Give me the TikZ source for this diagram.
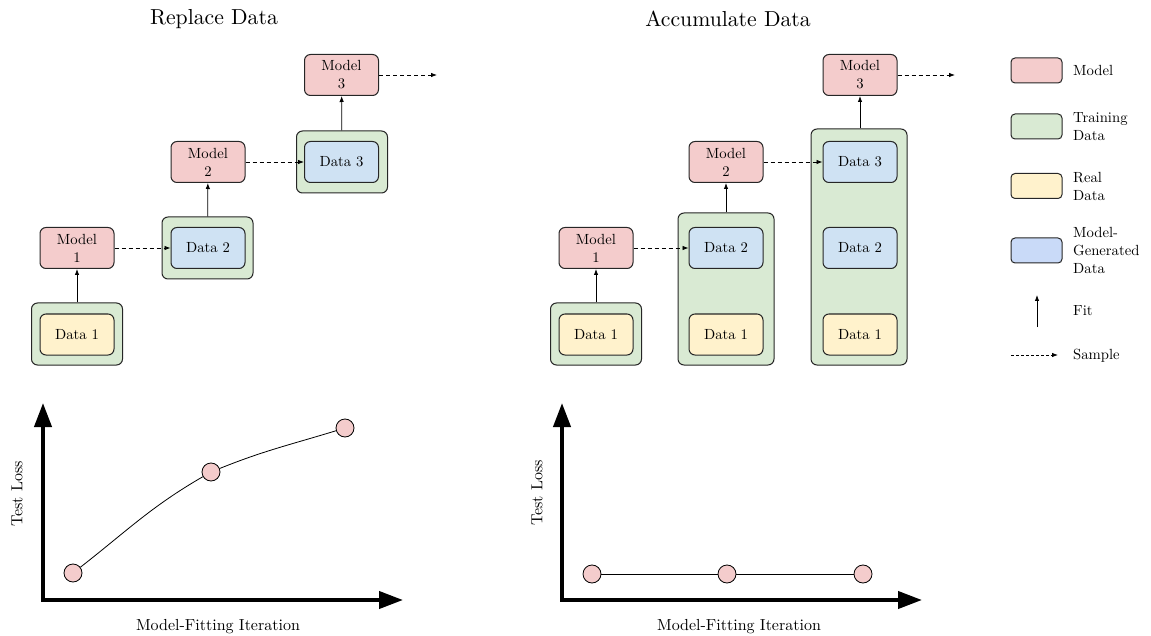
\documentclass[tikz,border=0pt]{standalone}
\usepackage{fontspec}
\setmainfont{lmroman10-regular.otf}
\usetikzlibrary{arrows.meta}
\definecolor{modelred}{HTML}{F4CCCC}
\definecolor{traingreen}{HTML}{D9EAD3}
\definecolor{realyellow}{HTML}{FFF2CC}
\definecolor{genblue}{HTML}{CFE2F3}
\definecolor{legblue}{HTML}{C9DAF8}
\begin{document}
\begin{tikzpicture}[x=1pt,y=-1pt,
  box/.style={draw=black!85,line width=1pt,rounded corners=6pt,minimum width=74pt,minimum height=41pt,inner sep=0pt,align=center,font=\fontsize{14.7}{18}\selectfont},
  model/.style={box,fill=modelred},
  real/.style={box,fill=realyellow},
  gen/.style={box,fill=genblue},
  train/.style={draw=black!85,line width=1pt,rounded corners=6pt,fill=traingreen,inner sep=0pt,minimum width=#1},
  fitarrow/.style={-{Latex[length=6pt,width=4.5pt]},line width=0.8pt},
  samplearrow/.style={fitarrow,dash pattern=on 4pt off 3pt},
  axis/.style={{Triangle[length=24pt,width=17pt]}-{Triangle[length=24pt,width=17pt]},line width=4pt,line join=miter},
  dot/.style={circle,draw,line width=0.8pt,fill=modelred,minimum size=18pt,inner sep=0pt},
  title/.style={font=\fontsize{21.7}{26}\selectfont},
  axlbl/.style={font=\fontsize{16}{19}\selectfont},
  legbox/.style={draw=black!85,line width=1pt,rounded corners=4pt,minimum width=51pt,minimum height=25pt,inner sep=0pt},
  leglbl/.style={anchor=west,align=left,inner sep=0pt,font=\fontsize{14.7}{18}\selectfont}]
\useasboundingbox (0,0) rectangle (1151,636);
\node[title] (ttlL) at (214,19) {Replace Data};
\node[title] (ttlR) at (728,19) {Accumulate Data};
\node[train=91pt,minimum height=62pt] (t1L) at (77,334) {};
\node[real] (r1L) at (77,334.5) {Data 1};
\node[model] (m1L) at (77,248) {Model\\1};
\node[train=91pt,minimum height=62pt] (t2L) at (207.5,248) {};
\node[gen] (g2L) at (208,248) {Data 2};
\node[model] (m2L) at (208,162) {Model\\2};
\node[train=91pt,minimum height=62pt] (t3L) at (342,162) {};
\node[gen] (g3L) at (341.5,162) {Data 3};
\node[model] (m3L) at (341.5,75) {Model\\3};
\coordinate (endL) at (437,75);
\draw[fitarrow] (t1L) -- (m1L);
\draw[fitarrow] (t2L) -- (m2L);
\draw[fitarrow] (t3L) -- (m3L);
\draw[samplearrow] (m1L) -- (g2L);
\draw[samplearrow] (m2L) -- (g3L);
\draw[samplearrow] (m3L) -- (endL);
\node[train=91pt,minimum height=62pt] (t1R) at (596,334) {};
\node[real] (r1R) at (596,334.5) {Data 1};
\node[model] (m1R) at (596,248) {Model\\1};
\node[train=96pt,minimum height=152pt] (t2R) at (726,289) {};
\node[gen] (g2R) at (726,248) {Data 2};
\node[real] (r2R) at (726,334.5) {Data 1};
\node[model] (m2R) at (726,162) {Model\\2};
\node[train=96pt,minimum height=236pt] (t3R) at (859,247) {};
\node[gen] (g3R) at (860,162) {Data 3};
\node[gen] (gb3R) at (860,248) {Data 2};
\node[real] (r3R) at (860,334.5) {Data 1};
\node[model] (m3R) at (860,75) {Model\\3};
\coordinate (endR) at (955,75);
\draw[fitarrow] (t1R) -- (m1R);
\draw[fitarrow] (t2R.north -| m2R) -- (m2R);
\draw[fitarrow] (t3R.north -| m3R) -- (m3R);
\draw[samplearrow] (m1R) -- (g2R);
\draw[samplearrow] (m2R) -- (g3R);
\draw[samplearrow] (m3R) -- (endR);
\node[legbox,fill=modelred] (kmodel) at (1036.5,70.5) {};
\node[leglbl] (kmodeltxt) at (1073,70.5) {Model};
\node[legbox,fill=traingreen] (ktrain) at (1036.5,126.5) {};
\node[leglbl] (ktraintxt) at (1073,126.5) {Training\\Data};
\node[legbox,fill=realyellow] (kreal) at (1036.5,186) {};
\node[leglbl] (krealtxt) at (1073,186) {Real\\Data};
\node[legbox,fill=legblue] (kgen) at (1036.5,250.5) {};
\node[leglbl] (kgentxt) at (1073,250.5) {Model-\\Generated\\Data};
\coordinate (kfitb) at (1037,327);
\coordinate (kfitt) at (1037,295);
\draw[fitarrow] (kfitb) -- (kfitt);
\node[leglbl] (kfittxt) at (1073,311) {Fit};
\coordinate (ksampa) at (1011,355);
\coordinate (ksampb) at (1058,355);
\draw[samplearrow,dash pattern=on 3pt off 2pt] (ksampa) -- (ksampb);
\node[leglbl] (ksamptxt) at (1073,356) {Sample};
\coordinate (yt1) at (43,403);
\coordinate (xt1) at (403,600);
\draw[axis] (yt1) |- (xt1);
\node[axlbl] (xl1) at (218,627) {Model-Fitting Iteration};
\node[axlbl,rotate=90] (yl1) at (17,494) {Test Loss};
\node[dot] (p1L) at (73,573) {};
\node[dot] (p2L) at (211,472) {};
\node[dot] (p3L) at (345,428) {};
\draw[line width=0.8pt] (p1L) to[out=38,in=-150] (p2L) to[out=22,in=-163] (p3L);
\coordinate (yt2) at (562,403);
\coordinate (xt2) at (922,600);
\draw[axis] (yt2) |- (xt2);
\node[axlbl] (xl2) at (739,627) {Model-Fitting Iteration};
\node[axlbl,rotate=90] (yl2) at (537,493) {Test Loss};
\node[dot] (p1R) at (592,574) {};
\node[dot] (p2R) at (727,574) {};
\node[dot] (p3R) at (863,574) {};
\draw[line width=0.8pt] (p1R) -- (p2R) -- (p3R);
\end{tikzpicture}
\end{document}
